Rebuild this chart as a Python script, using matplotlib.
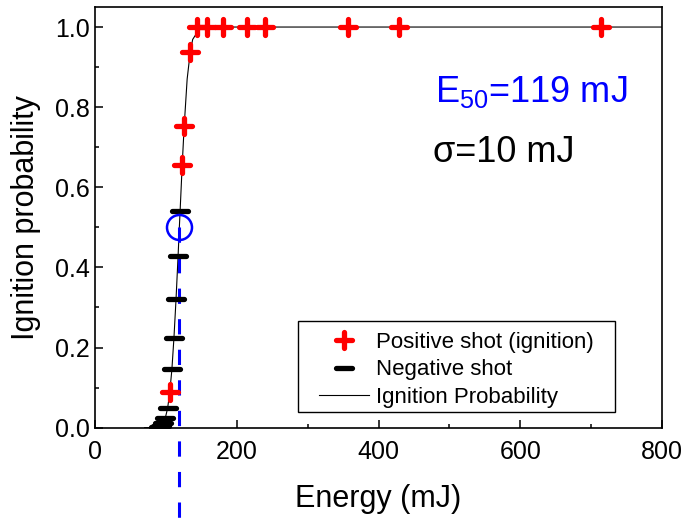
import matplotlib
matplotlib.use("Agg")
import matplotlib.pyplot as plt
from matplotlib.markers import MarkerStyle
from matplotlib.ticker import MultipleLocator, FormatStrFormatter
from matplotlib.patches import Rectangle

plt.rcParams['font.family'] = ['Liberation Sans', 'DejaVu Sans']

# Positive shots (ignition)
pos_energy = [105.5, 123.0, 125.8, 134.4, 144, 158, 180, 215, 240, 357, 429, 714]
pos_prob = [0.089, 0.655, 0.752, 0.938, 1.0, 1.0, 1.0, 1.0, 1.0, 1.0, 1.0, 1.0]

# Negative shots
neg_energy = [90.0, 93.2, 96.5, 99.0, 102.4, 108.5, 111.4, 114.3, 117.2, 120.1]
neg_prob = [0.002, 0.005, 0.011, 0.023, 0.048, 0.146, 0.225, 0.32, 0.428, 0.542]

# Ignition probability curve
curve_energy = [70, 85, 90, 93.2, 96.5, 99.0, 102.4, 105.5, 108.5, 111.4, 114.3,
                117.2, 119, 120.1, 123.0, 125.8, 130, 134.4, 137.8, 149, 800]
curve_prob = [0.0, 0.0005, 0.002, 0.005, 0.011, 0.023, 0.048, 0.089, 0.146, 0.225, 0.32,
              0.428, 0.5, 0.542, 0.655, 0.752, 0.87, 0.938, 0.969, 1.0, 1.0]

E50 = 119
E50_prob = 0.5

fig = plt.figure(figsize=(6.86, 5.19), dpi=100)
ax = fig.add_axes([0.1385, 0.176, 0.8265, 0.8105])

ax.plot(curve_energy, curve_prob, color='black', lw=0.8, label='Ignition Probability', zorder=2)

# dashed E50 line
ax.plot([E50, E50], [E50_prob, -0.25], color='blue', lw=2.2, ls=(0, (5, 5)),
        clip_on=False, zorder=3)

neg_marker = MarkerStyle('_', capstyle='round')
pos_marker = MarkerStyle('+', capstyle='round')
ax.plot(neg_energy, neg_prob, ls='none', marker=neg_marker, ms=11, mew=3.8,
        color='black', label='Negative shot', zorder=4)
ax.plot(pos_energy, pos_prob, ls='none', marker=pos_marker, ms=11, mew=3.8,
        color='red', label='Positive shot (ignition)', zorder=5, clip_on=False)
ax.plot([E50], [E50_prob], ls='none', marker='o', ms=18, mfc='none', mec='blue',
        mew=1.8, zorder=6)

ax.set_xlim(0, 800)
ax.set_ylim(0, 1.05)
ax.xaxis.set_major_locator(MultipleLocator(200))
ax.xaxis.set_minor_locator(MultipleLocator(100))
ax.yaxis.set_major_locator(MultipleLocator(0.2))
ax.yaxis.set_minor_locator(MultipleLocator(0.1))
ax.yaxis.set_major_formatter(FormatStrFormatter('%.1f'))
ax.tick_params(which='both', direction='in', labelsize=18, width=1.1)
ax.tick_params(which='major', length=6)
ax.tick_params(which='minor', length=3.2)
ax.tick_params(axis='x', pad=9)
for s in ax.spines.values():
    s.set_linewidth(1.2)

ax.set_xlabel('Energy (mJ)', fontsize=22, labelpad=14)
ax.set_ylabel('Ignition probability', fontsize=22)
ax.yaxis.set_label_coords(-0.095, 0.5)

ax.text(0.6, 0.774, r'E$_{\mathregular{50}}$=119 mJ', transform=ax.transAxes,
        color='blue', fontsize=26, va='baseline', ha='left')
ax.text(0.597, 0.632, 'σ=10 mJ', transform=ax.transAxes,
        color='black', fontsize=26, va='baseline', ha='left')

# legend frame
ax.add_patch(Rectangle((0.358, 0.0366), 0.559, 0.217, transform=ax.transAxes,
                       facecolor='white', edgecolor='black', lw=1.0, zorder=9))

handles, labels = ax.get_legend_handles_labels()
order = [2, 1, 0]
leg = ax.legend([handles[i] for i in order], [labels[i] for i in order],
                loc='upper left', bbox_to_anchor=(0.395, 0.227), borderaxespad=0,
                fontsize=16, frameon=False, labelspacing=0.28, handlelength=2.25,
                handletextpad=0.32, borderpad=0)
leg.set_zorder(10)

fig.savefig('out.png', dpi=100)
